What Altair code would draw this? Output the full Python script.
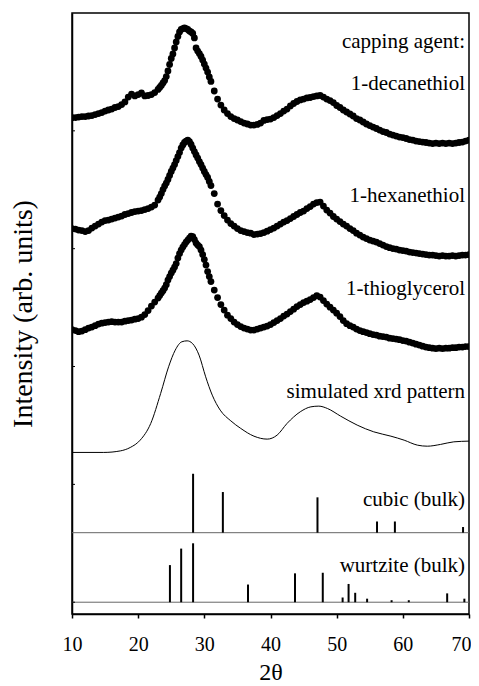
import altair as alt
import pandas as pd

# 2-theta sampling grid (degrees)
grid = [10.0, 10.5, 11.0, 11.5, 12.0, 12.5, 13.0, 13.5, 14.0, 14.5, 15.0, 15.5, 16.0, 16.5,
        17.0, 17.5, 18.0, 18.5, 19.0, 19.5, 20.0, 20.5, 21.0, 21.5, 22.0, 22.5, 23.0,
        23.25, 23.5, 23.75, 24.0, 24.25, 24.5, 24.75, 25.0, 25.25, 25.5, 25.75, 26.0,
        26.25, 26.5, 26.75, 27.0, 27.25, 27.5, 27.75, 28.0, 28.25, 28.5, 28.75, 29.0,
        29.25, 29.5, 29.75, 30.0, 30.25, 30.5, 30.75, 31.0,
        31.5, 32.0, 32.5, 33.0, 33.5, 34.0, 34.5, 35.0, 35.5, 36.0, 36.5, 37.0, 37.5,
        38.0, 38.5, 39.0, 39.5, 40.0, 40.5, 41.0, 41.5, 42.0, 42.5, 43.0, 43.5, 44.0,
        44.5, 45.0, 45.5, 46.0, 46.5, 47.0, 47.5, 48.0, 48.5, 49.0, 49.5, 50.0, 50.5,
        51.0, 51.5, 52.0, 52.5, 53.0, 53.5, 54.0, 54.5, 55.0, 55.5, 56.0, 56.5, 57.0,
        57.5, 58.0, 58.5, 59.0, 59.5, 60.0, 60.5, 61.0, 61.5, 62.0, 62.5, 63.0, 63.5,
        64.0, 64.5, 65.0, 65.5, 66.0, 66.5, 67.0, 67.5, 68.0, 68.5, 69.0, 69.5, 70.0]

decanethiol = [4.111, 4.113, 4.117, 4.121, 4.121, 4.126, 4.130, 4.138, 4.147, 4.155, 4.168,
               4.177, 4.185, 4.198, 4.206, 4.223, 4.245, 4.287, 4.312, 4.296, 4.308, 4.321,
               4.296, 4.300, 4.308, 4.325, 4.351,
               4.368, 4.385, 4.406, 4.427, 4.461, 4.508, 4.563, 4.614, 4.652, 4.703, 4.754,
               4.801, 4.839, 4.860, 4.868, 4.873, 4.868, 4.860, 4.847, 4.839, 4.826, 4.788,
               4.703, 4.677, 4.656, 4.631, 4.601, 4.567, 4.533, 4.499, 4.457, 4.419,
               4.338, 4.270, 4.219, 4.177, 4.147, 4.121, 4.104, 4.092, 4.079, 4.066, 4.058,
               4.049, 4.049, 4.054, 4.066, 4.088, 4.096, 4.100, 4.113, 4.130, 4.147, 4.168,
               4.185, 4.211, 4.232, 4.249, 4.262, 4.270, 4.279, 4.283, 4.291, 4.296, 4.300,
               4.287, 4.270, 4.257, 4.240, 4.215, 4.198, 4.177, 4.160, 4.143, 4.126, 4.104,
               4.092, 4.075, 4.058, 4.045, 4.032, 4.020, 4.007, 3.994, 3.986, 3.973, 3.964,
               3.956, 3.947, 3.943, 3.935, 3.926, 3.922, 3.913, 3.909, 3.905, 3.901, 3.896,
               3.892, 3.896, 3.892, 3.896, 3.892, 3.896, 3.892, 3.896, 3.901, 3.905, 3.913,
               3.922]

hexanethiol = [3.171, 3.166, 3.158, 3.154, 3.145, 3.154, 3.175, 3.192, 3.209, 3.226, 3.239,
               3.243, 3.251, 3.260, 3.268, 3.277, 3.290, 3.298, 3.307, 3.315, 3.319, 3.323,
               3.332, 3.340, 3.353, 3.370, 3.413,
               3.438, 3.468, 3.502, 3.531, 3.557, 3.587, 3.621, 3.655, 3.684, 3.714, 3.748,
               3.782, 3.816, 3.854, 3.880, 3.901, 3.913, 3.922, 3.909, 3.884, 3.854, 3.824,
               3.795, 3.769, 3.739, 3.714, 3.684, 3.655, 3.629, 3.604, 3.570, 3.536,
               3.468, 3.379, 3.323, 3.281, 3.243, 3.213, 3.192, 3.171, 3.154, 3.145, 3.137,
               3.132, 3.120, 3.124, 3.128, 3.137, 3.149, 3.162, 3.175, 3.192, 3.209, 3.226,
               3.239, 3.256, 3.273, 3.290, 3.307, 3.319, 3.340, 3.357, 3.379, 3.391, 3.396,
               3.362, 3.328, 3.302, 3.273, 3.251, 3.230, 3.209, 3.192, 3.171, 3.154, 3.132,
               3.116, 3.099, 3.086, 3.073, 3.065, 3.056, 3.043, 3.031, 3.018, 3.009, 3.001,
               2.997, 2.988, 2.984, 2.980, 2.971, 2.967, 2.963, 2.958, 2.954, 2.950, 2.946,
               2.946, 2.942, 2.937, 2.942, 2.937, 2.937, 2.942, 2.937, 2.942, 2.946, 2.946,
               2.950]

thioglycerol = [2.313, 2.305, 2.296, 2.301, 2.313, 2.326, 2.335, 2.347, 2.360, 2.368, 2.373,
                2.377, 2.381, 2.377, 2.377, 2.377, 2.385, 2.390, 2.394, 2.402, 2.407, 2.419,
                2.441, 2.475, 2.513, 2.547, 2.581,
                2.602, 2.623, 2.644, 2.666, 2.695, 2.734, 2.763, 2.793, 2.818, 2.844, 2.874,
                2.920, 2.958, 2.988, 3.014, 3.035, 3.056, 3.073, 3.090, 3.107, 3.103, 3.077,
                3.048, 3.031, 3.018, 2.988, 2.950, 2.908, 2.861, 2.806, 2.763, 2.721,
                2.649, 2.585, 2.526, 2.479, 2.436, 2.407, 2.377, 2.356, 2.339, 2.326, 2.318,
                2.309, 2.309, 2.318, 2.326, 2.335, 2.343, 2.356, 2.373, 2.390, 2.407, 2.428,
                2.445, 2.466, 2.487, 2.509, 2.526, 2.543, 2.555, 2.568, 2.585, 2.602, 2.589,
                2.560, 2.530, 2.504, 2.479, 2.453, 2.424, 2.390, 2.364, 2.347, 2.335, 2.318,
                2.305, 2.296, 2.288, 2.279, 2.271, 2.267, 2.258, 2.254, 2.250, 2.241, 2.237,
                2.233, 2.228, 2.220, 2.216, 2.207, 2.199, 2.190, 2.182, 2.173, 2.165, 2.160,
                2.156, 2.152, 2.156, 2.152, 2.156, 2.156, 2.160, 2.160, 2.165, 2.165, 2.169,
                2.169]

sim_theta = [10.0, 14.8, 17.3, 18.8, 20.3, 21.9, 23.4, 24.6, 25.6, 26.6, 27.4, 28.2, 29.2,
             30.2, 31.2, 32.4, 34.0, 35.5, 37.5, 39.5, 41.0, 42.5, 44.5, 46.1, 47.3, 48.6,
             50.6, 53.1, 55.6, 58.2, 60.2, 62.2, 63.7, 65.7, 67.7, 70.0]
sim_int = [1.271, 1.271, 1.284, 1.313, 1.375, 1.517, 1.772, 1.998, 2.139, 2.210, 2.218,
           2.196, 2.097, 1.913, 1.757, 1.630, 1.539, 1.475, 1.409, 1.384, 1.418, 1.517,
           1.616, 1.658, 1.664, 1.644, 1.579, 1.503, 1.446, 1.409, 1.375, 1.333, 1.324,
           1.339, 1.361, 1.367]

# reference stick patterns (relative intensity, %)
cubic_pos = [28.3, 32.8, 47.1, 56.1, 58.8, 69.1]
cubic_rel = [100, 69, 60, 19, 19, 9.6]
wurtz_pos = [24.8, 26.5, 28.3, 36.6, 43.7, 47.9, 50.9, 51.8, 52.8, 54.6, 58.3, 60.9, 66.7, 69.3]
wurtz_rel = [63, 91, 100, 30, 49, 50, 8, 31, 16, 6, 3.4, 3.4, 15, 6]
cubic_base = 0.59
wurtz_base = 0.0
stick_scale = 0.5  # height of a 100 % stick, arb. units

labels = ["capping agent:", "1-decanethiol", "1-hexanethiol", "1-thioglycerol",
          "simulated xrd pattern", "cubic (bulk)", "wurtzite (bulk)"]
label_y = [4.70, 4.35, 3.40, 2.61, 1.73, 0.82, 0.26]
label_x = [69.4] * len(labels)

ytick_vals = [0, 1, 2, 3, 4]

for s in (decanethiol, hexanethiol, thioglycerol):
    assert len(s) == len(grid), len(s)

FONT = "Liberation Serif"

rows = []
for name, vals in (("1-decanethiol", decanethiol), ("1-hexanethiol", hexanethiol),
                   ("1-thioglycerol", thioglycerol)):
    for t, v in zip(grid, vals):
        rows.append({"theta": t, "I": v, "sample": name})
df_pts = pd.DataFrame(rows)
df_sim = pd.DataFrame({"theta": sim_theta, "I": sim_int})
df_sticks = pd.DataFrame(
    [{"theta": p, "base": cubic_base, "top": cubic_base + r / 100 * stick_scale} for p, r in zip(cubic_pos, cubic_rel)]
    + [{"theta": p, "base": wurtz_base, "top": wurtz_base + r / 100 * stick_scale} for p, r in zip(wurtz_pos, wurtz_rel)]
)
df_base = pd.DataFrame({"y": [cubic_base, wurtz_base]})
df_lab = pd.DataFrame({"x": label_x, "y": label_y, "t": labels})
df_ticks = pd.DataFrame({"v": ytick_vals})

xs = alt.Scale(domain=[10, 70], nice=False, zero=False)
ys = alt.Scale(domain=[-0.1, 5], nice=False, zero=False)

x_axis = alt.Axis(values=list(range(10, 71, 5)),
                  labelExpr="datum.value % 10 == 0 ? datum.value : ''",
                  tickSize=4, tickColor="black", tickWidth=1.5,
                  domainColor="black", domainWidth=1.5, grid=False,
                  labelFont=FONT, labelFontSize=20, labelColor="black", labelPadding=16,
                  labelOffset={"condition": {"test": "datum.value == 70", "value": -8}, "value": 0},
                  labelFlush=False, title="2θ", titleFont=FONT, titleFontSize=24,
                  titleFontWeight="normal", titleColor="black", titlePadding=6)
y_axis = alt.Axis(labels=False, ticks=False, grid=False, domainColor="black", domainWidth=1.5,
                  title="Intensity (arb. units)", titleFont=FONT, titleFontSize=28,
                  titleFontWeight="normal", titleColor="black", titlePadding=35)

points = alt.Chart(df_pts).mark_point(filled=True, color="black", size=46, opacity=1,
                                      strokeWidth=0, clip=True).encode(
    x=alt.X("theta:Q", scale=xs, axis=x_axis),
    y=alt.Y("I:Q", scale=ys, axis=y_axis),
    detail="sample:N",
)
sim = alt.Chart(df_sim).mark_line(color="black", strokeWidth=1, interpolate="monotone",
                                  clip=True).encode(
    x=alt.X("theta:Q", scale=xs), y=alt.Y("I:Q", scale=ys))
baselines = alt.Chart(df_base).mark_rule(color="#666666", strokeWidth=1).encode(
    y=alt.Y("y:Q", scale=ys))
sticks = alt.Chart(df_sticks).mark_rule(color="black", strokeWidth=2).encode(
    x=alt.X("theta:Q", scale=xs), y=alt.Y("base:Q", scale=ys), y2="top:Q")
ticks = alt.Chart(df_ticks).mark_rule(color="black", strokeWidth=1).encode(
    x=alt.value(0), x2=alt.value(3), y=alt.Y("v:Q", scale=ys))
texts = alt.Chart(df_lab).mark_text(font=FONT, fontSize=21, color="black", align="right",
                                    baseline="alphabetic").encode(
    x=alt.X("x:Q", scale=xs), y=alt.Y("y:Q", scale=ys), text="t:N")

chart = alt.layer(points, sim, baselines, sticks, ticks, texts).properties(
    width=397, height=601,
    autosize=alt.AutoSizeParams(type="none"),
    padding={"left": 64, "top": 5, "right": 2, "bottom": 70},
).configure_view(stroke="black", strokeWidth=1.5)

chart.save("out.html", embed_options={"renderer": "svg", "actions": False})
